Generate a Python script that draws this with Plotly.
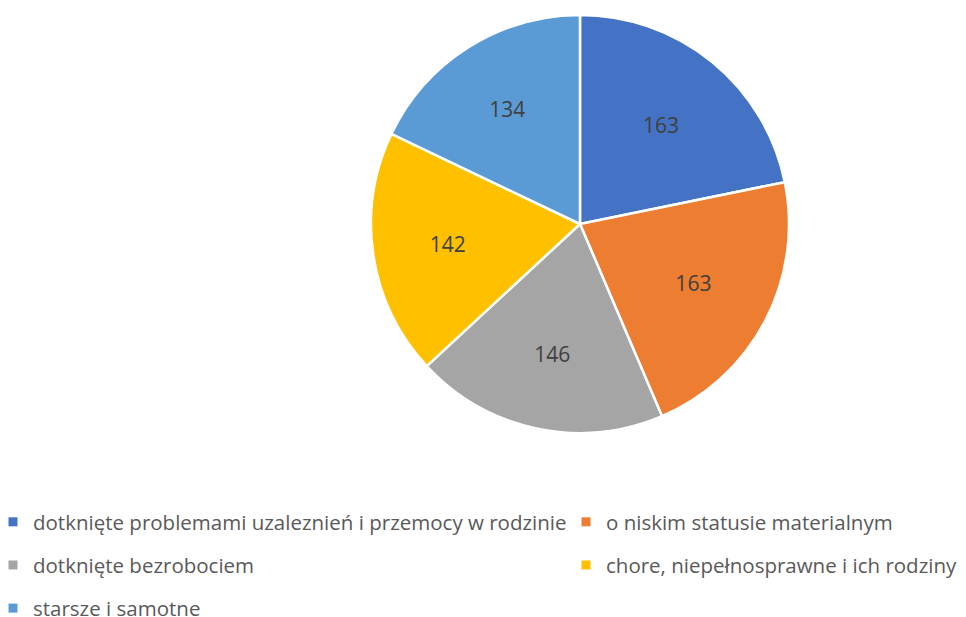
import plotly.graph_objects as go

labels = [
    "dotknięte problemami uzaleznień i przemocy w rodzinie",
    "o niskim statusie materialnym",
    "dotknięte bezrobociem",
    "chore, niepełnosprawne i ich rodziny",
    "starsze i samotne",
]
values = [163, 163, 146, 142, 134]
colors = ["#4472C4", "#ED7D31", "#A5A5A5", "#FFC000", "#5B9BD5"]

W, H = 966, 617
OFF = 8  # page body margin
cx, cy, r = 580 - OFF, 224 - OFF, 209

fig = go.Figure()
fig.add_trace(go.Pie(
    labels=labels, values=values, sort=False, direction="clockwise", rotation=0,
    marker=dict(colors=colors, line=dict(color="white", width=2.5)),
    textinfo="value", textposition="inside", insidetextorientation="horizontal",
    textfont=dict(family="Open Sans", size=21, color="#404040"),
    showlegend=False, hoverinfo="label+value",
    domain=dict(x=[(cx - r) / W, (cx + r) / W], y=[1 - (cy + r) / H, 1 - (cy - r) / H]),
))

for i, (lab, col) in enumerate(zip(labels, colors)):
    fig.add_trace(go.Scatter(
        x=[None], y=[None], mode="markers", name=lab,
        marker=dict(symbol="square", size=9, color=col),
        legend="legend" if i % 2 == 0 else "legend2",
        legendgroup=f"g{i}", showlegend=True, hoverinfo="skip",
    ))

legfont = dict(family="Open Sans", size=20.5, color="#595959")
fig.update_layout(
    width=W, height=H,
    margin=dict(l=0, r=0, t=0, b=0, autoexpand=False),
    paper_bgcolor="white", plot_bgcolor="white",
    xaxis=dict(visible=False), yaxis=dict(visible=False),
    legend=dict(x=-15 / W, xanchor="left", y=1 - 494 / H, yanchor="top",
                orientation="v", font=legfont, tracegroupgap=13.5,
                bgcolor="rgba(0,0,0,0)"),
    legend2=dict(x=558 / W, xanchor="left", y=1 - 494 / H, yanchor="top",
                 orientation="v", font=legfont, tracegroupgap=13.5,
                 bgcolor="rgba(0,0,0,0)"),
)

fig.write_html("out.html")
